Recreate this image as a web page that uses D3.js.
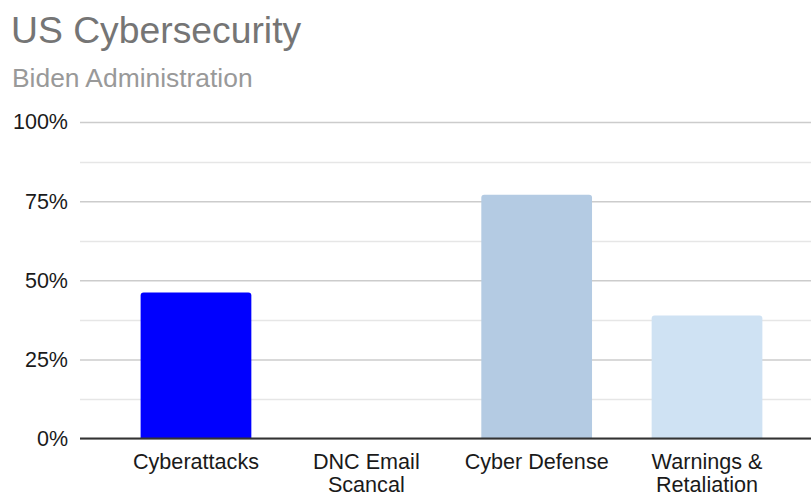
<!DOCTYPE html>
<html>
<head>
<meta charset="utf-8">
<script src="https://cdn.jsdelivr.net/npm/d3@7"></script>
<style>
  html, body { margin: 0; padding: 0; background: #fff; }
  svg { display: block; font-family: "Liberation Sans", Arial, Helvetica, sans-serif; }
</style>
</head>
<body>
<svg id="chart" width="811" height="494"></svg>
<script>
// Share of coverage by topic
const categories = ["Cyberattacks", "DNC Email\nScancal", "Cyber Defense", "Warnings &\nRetaliation"];
const values = [0.461, 0, 0.770, 0.389];
const barColors = ["#0000ff", "#9fc5e8", "#b4cbe3", "#cfe2f3"];
const tickValues = [0, 0.25, 0.5, 0.75, 1];
const minorTickValues = [0.125, 0.375, 0.625, 0.875];
const titleText = "US Cybersecurity";
const subtitleText = "Biden Administration";

const W = 811, H = 494;
const plot = { left: 80, right: 811, top: 122, bottom: 438.5 };

const svg = d3.select("#chart");

const x = d3.scaleBand()
  .domain(categories)
  .range([81, 822])
  .paddingInner(0.35)
  .paddingOuter(0.35);

const y = d3.scaleLinear()
  .domain([0, 1])
  .range([plot.bottom, plot.top]);

// Title and subtitle
svg.append("text")
  .attr("x", 11).attr("y", 43)
  .attr("fill", "#757575")
  .attr("font-size", 37.3)
  .text(titleText);

svg.append("text")
  .attr("x", 12).attr("y", 86.5)
  .attr("fill", "#999999")
  .attr("font-size", 26.4)
  .text(subtitleText);

// Minor gridlines
svg.append("g")
  .selectAll("line")
  .data(minorTickValues)
  .join("line")
  .attr("x1", plot.left).attr("x2", plot.right)
  .attr("y1", d => Math.round(y(d)) + 0.5).attr("y2", d => Math.round(y(d)) + 0.5)
  .attr("stroke", "#e6e6e6")
  .attr("stroke-width", 1.5);

// Major gridlines + tick labels via axis
const yAxis = d3.axisLeft(y)
  .tickValues(tickValues)
  .tickFormat(d3.format(".0%"))
  .tickSize(-(plot.right - plot.left))
  .tickPadding(12);

const gy = svg.append("g")
  .attr("transform", `translate(${plot.left},0)`)
  .call(yAxis);
gy.select(".domain").remove();
gy.selectAll(".tick line")
  .attr("stroke", "#cccccc")
  .attr("stroke-width", 1.5);
gy.selectAll(".tick text")
  .attr("fill", "#1a1a1a")
  .attr("font-size", 21.5)
  .attr("font-family", "Liberation Sans, Arial, sans-serif");

// Bars with slightly rounded tops
function barPath(x0, w, yTop, yBase, r) {
  const h = yBase - yTop;
  if (h <= 0) return "";
  const rr = Math.min(r, h, w / 2);
  return `M${x0},${yBase}V${yTop + rr}Q${x0},${yTop} ${x0 + rr},${yTop}` +
         `H${x0 + w - rr}Q${x0 + w},${yTop} ${x0 + w},${yTop + rr}V${yBase}Z`;
}

svg.append("g")
  .selectAll("path")
  .data(categories.map((c, i) => ({ c, v: values[i], color: barColors[i] })))
  .join("path")
  .attr("d", d => barPath(x(d.c), x.bandwidth(), y(d.v), y(0), 3))
  .attr("fill", d => d.color);

// Baseline
svg.append("line")
  .attr("x1", plot.left).attr("x2", plot.right)
  .attr("y1", y(0)).attr("y2", y(0))
  .attr("stroke", "#333333")
  .attr("stroke-width", 2);

// Category labels
const xl = svg.append("g");
categories.forEach(c => {
  const lines = c.split("\n");
  const t = xl.append("text")
    .attr("x", x(c) + x.bandwidth() / 2)
    .attr("y", 469)
    .attr("text-anchor", "middle")
    .attr("fill", "#1a1a1a")
    .attr("font-size", 21.6);
  lines.forEach((ln, i) => {
    t.append("tspan")
      .attr("x", x(c) + x.bandwidth() / 2)
      .attr("dy", i === 0 ? 0 : 22.5)
      .text(ln);
  });
});
</script>
</body>
</html>
